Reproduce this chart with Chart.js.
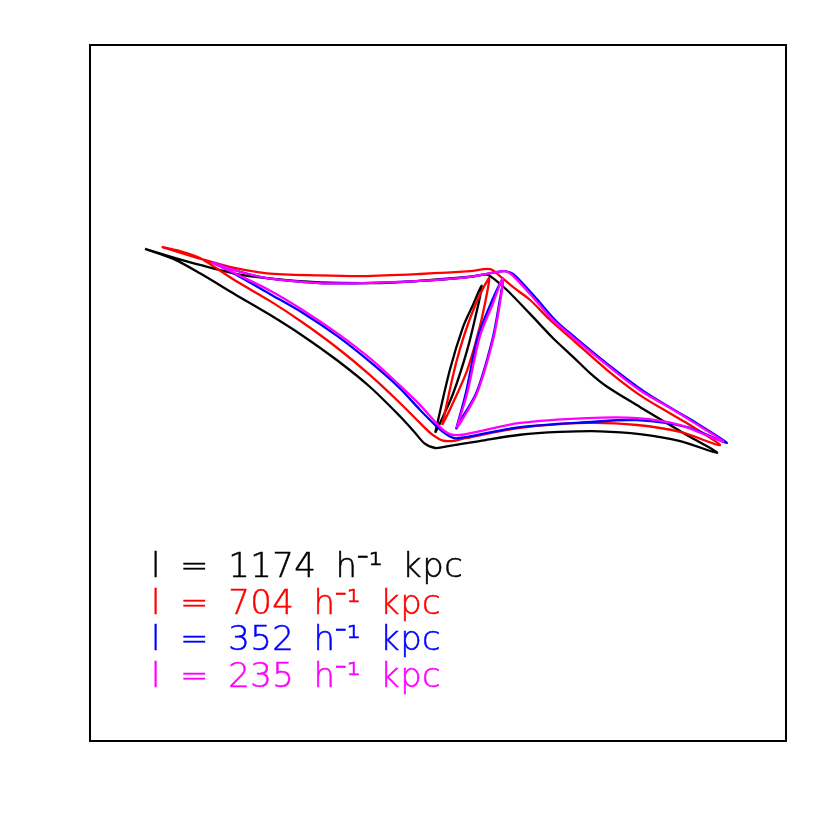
<!DOCTYPE html>
<html>
<head>
<meta charset="utf-8">
<script src="https://cdn.jsdelivr.net/npm/chart.js@4"></script>
<style>
  html, body { margin: 0; padding: 0; background: #fff; }
  #wrap { position: relative; width: 830px; height: 830px; }
  #chart { position: absolute; left: 0; top: 0; }
  .lbl {
    position: absolute; left: 151px;
    font-family: 'DejaVu Sans', sans-serif; font-weight: 200;
    font-size: 34px; line-height: 34px; letter-spacing: 0.4px; word-spacing: 8px;
    white-space: pre; -webkit-text-stroke: 0.5px currentColor;
  }
</style>
</head>
<body>
<div id="wrap">
  <canvas id="chart" width="830" height="830"></canvas>
</div>
<script>
// Caustic curves, coordinates in plot units (box = 0..100 on both axes)
const blackOuter = [
  [7.9,70.7],[11.9,69.3],[15.8,67.2],[20.8,64.2],[25.9,61.2],[30.6,58.2],[35.5,54.7],
  [40.2,50.9],[44.5,46.7],[46.7,44.3],[48.0,42.8],[49.6,42.1],[51.7,42.4],
  [56.0,43.1],[61.8,44.0],[67.5,44.4],[73.3,44.5],[79.0,44.1],[84.8,43.1],[90.1,41.4],
  [86.2,43.7],[83.8,45.1],[79.0,48.0],[74.3,50.9],[71.8,52.9],[69.4,55.2],[66.5,57.9],
  [63.2,61.4],[59.9,64.8],[57.9,66.5],[57.0,67.0],
  [54.6,66.7],[47.4,66.1],[41.7,65.8],[33.0,65.9],[25.4,66.5],[20.6,67.2],[15.8,68.4],
  [11.9,69.5],[7.9,70.7]
];
const blackLens = [
  [49.6,44.3],[51.7,53.3],[53.6,59.5],[54.9,62.4],[56.3,65.4],
  [55.6,61.9],[54.2,56.2],[52.2,50.0],[50.3,45.7],[49.6,44.3]
];
const redOuter = [
  [10.3,71.0],[12.9,70.4],[15.8,69.4],[20.8,66.2],[25.9,63.2],[30.6,60.1],[35.5,56.5],
  [40.2,52.6],[44.5,48.6],[47.4,45.7],[49.1,44.1],[50.6,43.2],[52.0,43.1],[53.9,43.5],
  [61.8,45.0],[71.4,45.7],[78.6,45.4],[84.8,44.4],[90.5,42.5],
  [86.2,45.4],[83.8,46.8],[79.0,49.7],[74.3,53.3],[69.4,57.6],[66.1,60.5],[63.2,63.4],
  [60.8,65.2],[58.9,66.8],[57.5,67.8],
  [54.6,67.5],[47.4,67.1],[39.2,66.8],[33.0,66.9],[25.4,67.2],[20.6,68.0],[15.8,69.3],
  [10.3,71.0]
];
const redLens = [
  [50.6,45.4],[52.7,54.7],[54.9,61.5],[57.3,66.5],
  [57.2,65.2],[56.0,59.5],[54.2,53.3],[51.7,47.6],[50.6,45.4]
];
const blueOuter = [
  [17.5,68.8],[20.8,67.1],[25.9,64.2],[30.6,61.5],[35.5,58.2],[40.2,54.5],[44.5,50.7],
  [47.4,47.6],[49.9,45.1],[51.3,44.0],[52.4,43.5],[54.2,43.7],[61.8,45.1],[71.4,45.8],
  [78.6,46.1],[85.8,45.1],[91.5,42.8],
  [86.6,46.0],[84.2,47.4],[79.5,50.3],[74.7,53.9],[69.8,57.9],[67.0,60.3],[64.1,63.6],
  [60.9,67.0],[59.6,67.5],
  [58.6,67.4],[54.6,66.7],[47.4,66.1],[39.2,65.8],[33.0,65.8],[25.4,66.5],[20.6,67.7],
  [17.5,68.8]
];
const blueLens = [
  [52.6,44.8],[54.0,50.0],[55.7,58.0],[57.6,62.9],[59.3,66.4],
  [58.8,62.9],[57.8,57.6],[55.5,50.0],[53.0,45.7],[52.6,44.8]
];
const magentaOuter = [
  [17.5,68.8],[20.8,67.2],[25.9,64.7],[30.6,61.9],[35.5,58.6],[40.2,55.0],[44.5,51.1],
  [47.4,48.3],[50.3,45.1],[51.7,44.1],[53.5,44.0],[61.8,45.7],[71.4,46.4],[78.6,46.4],
  [84.8,45.4],[91.0,43.0],
  [86.2,46.1],[83.8,47.6],[79.0,50.4],[74.3,54.0],[69.4,58.0],[66.5,60.5],[63.6,63.8],
  [60.6,67.0],[59.6,67.5],
  [58.6,67.4],[54.6,66.7],[47.4,66.1],[39.2,65.8],[33.0,65.8],[25.4,66.5],[20.6,67.7],
  [17.5,68.8]
];
const magentaLens = [
  [52.7,45.0],[54.2,50.0],[56.0,58.1],[57.9,62.9],[59.3,66.5],
  [58.9,62.9],[57.9,57.6],[55.6,50.0],[53.2,45.7],[52.7,45.0]
];

const seriesNames = ['1174', '704', '352', '235'];
const seriesColors = ['#000000', '#ff0000', '#0000ff', '#ff00ff'];
const seriesCurves = [
  [blackOuter, blackLens],
  [redOuter, redLens],
  [blueOuter, blueLens],
  [magentaOuter, magentaLens]
];

const toPoints = arr => arr.map(p => ({ x: p[0], y: p[1] }));

const datasets = [];
seriesCurves.forEach((curves, i) => {
  curves.forEach(c => {
    datasets.push({
      data: toPoints(c),
      showLine: true,
      borderColor: seriesColors[i],
      borderWidth: 2.3,
      pointRadius: 0,
      tension: 0.3,
      fill: false,
      order: seriesCurves.length - i // later series drawn on top
    });
  });
});

// Plot frame
const frameBox = {
  id: 'frameBox',
  afterDraw(chart) {
    const { ctx, chartArea: a } = chart;
    ctx.save();
    ctx.strokeStyle = '#000';
    ctx.lineWidth = 2;
    ctx.strokeRect(a.left, a.top, a.right - a.left, a.bottom - a.top);
    ctx.restore();
  }
};

new Chart(document.getElementById('chart'), {
  type: 'scatter',
  data: { datasets },
  options: {
    responsive: false,
    animation: false,
    layout: { padding: { left: 90, top: 45, right: 44, bottom: 89 } },
    scales: {
      x: { type: 'linear', min: 0, max: 100, display: false },
      y: { type: 'linear', min: 0, max: 100, display: false }
    },
    plugins: { legend: { display: false }, tooltip: { enabled: false } }
  },
  plugins: [frameBox]
});

// Legend text
const wrap = document.getElementById('wrap');
seriesNames.forEach((name, i) => {
  const d = document.createElement('div');
  d.className = 'lbl';
  d.style.top = (548 + i * 36.6) + 'px';
  d.style.color = seriesColors[i];
  d.textContent = 'l = ' + name + ' h\u207B\u00B9 kpc';
  wrap.appendChild(d);
});
</script>
</body>
</html>
